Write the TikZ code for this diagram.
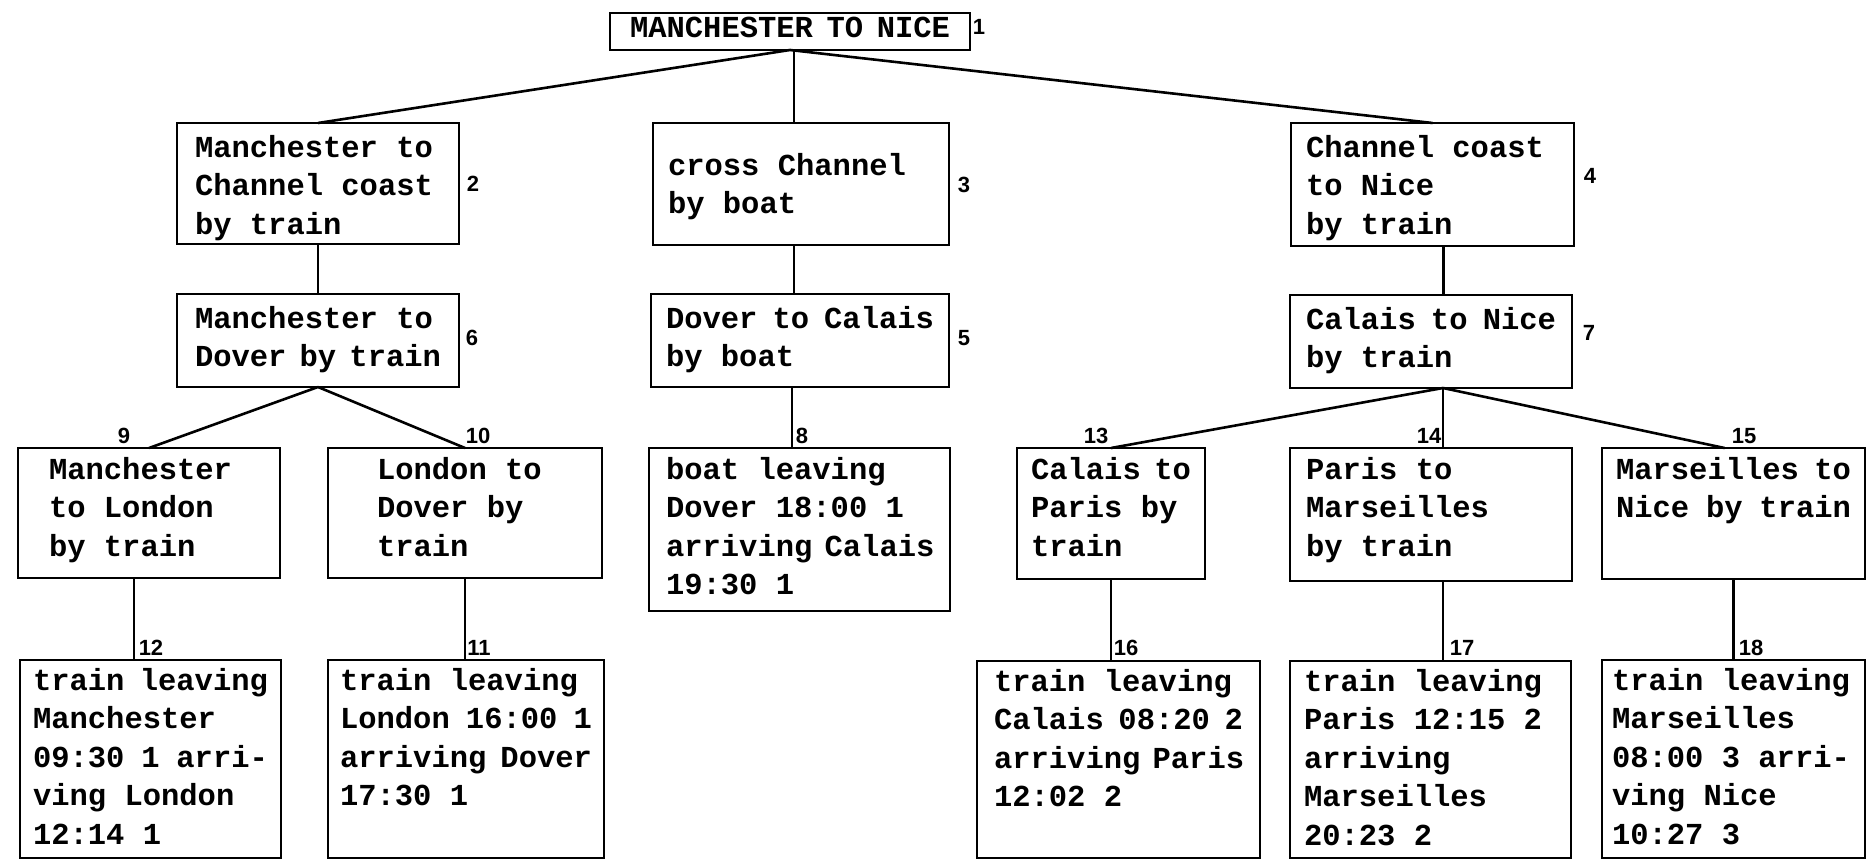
\documentclass[tikz,border=0pt]{standalone}
\usepackage{fontspec}
\newfontfamily\monofam{Liberation Mono}
\newfontfamily\labfam{Liberation Sans}
\newcommand\boxfont{\monofam\bfseries\fontsize{30.5}{38.5}\selectfont}
\newcommand\numfont{\labfam\bfseries\fontsize{22}{26}\selectfont}
\tikzset{
  bx/.style={draw, line width=2.6pt, inner ysep=0pt, outer sep=0pt},
  conn/.style={line width=2.6pt},
  num/.style={font=\numfont, inner sep=0pt}
}
% #1 name, #2 x1, #3 y1, #4 x2, #5 y2, #6 left pad, #7 first baseline, #8 text
\newcommand\mkbox[8]{\node[bx, inner xsep=#6pt, anchor=north west] (#1) at (#2,#3)
  {\parbox[c][\dimexpr #5pt-#3pt\relax][t]{\dimexpr #4pt-#2pt-#6pt-#6pt\relax}{\boxfont\raggedright\rule{0pt}{#7pt}#8}};}
\begin{document}
\begin{tikzpicture}[x=1pt,y=-1pt]
\useasboundingbox (0,0) rectangle (1868,862);
% boxes
\mkbox{root}{610}{13}{970}{50}{20}{25}{MANCHESTER~TO~NICE}
\mkbox{b2}{177}{123}{459}{244}{18}{34}{Manchester~to\\Channel~coast\\by~train}
\mkbox{b3}{653}{123}{949}{245}{15}{52}{cross~Channel\\by~boat}
\mkbox{b4}{1291}{123}{1574}{246}{15}{34}{Channel~coast\\to~Nice\\by~train}
\mkbox{b6}{177}{294}{459}{387}{18}{34}{Manchester~to\\Dover~by~train}
\mkbox{b5}{651}{294}{949}{387}{15}{34}{Dover~to~Calais\\by~boat}
\mkbox{b7}{1290}{295}{1572}{388}{16}{34}{Calais~to~Nice\\by~train}
\mkbox{b9}{18}{448}{280}{578}{31}{31}{Manchester\\to~London\\by~train}
\mkbox{b10}{328}{448}{602}{578}{49}{31}{London~to\\Dover~by\\train}
\mkbox{b8}{649}{448}{950}{611}{17}{31}{boat~leaving\\Dover~18:00~1\\arriving~Calais\\19:30~1}
\mkbox{b13}{1017}{448}{1205}{579}{14}{31}{Calais~to\\Paris~by\\train}
\mkbox{b14}{1290}{448}{1572}{581}{16}{31}{Paris~to\\Marseilles\\by~train}
\mkbox{b15}{1602}{448}{1865}{579}{14}{31}{Marseilles~to\\Nice~by~train}
\mkbox{b12}{20}{660}{281}{858}{13}{30}{train~leaving\\Manchester\\09:30~1~arri-\\ving~London\\12:14~1}
\mkbox{b11}{328}{660}{604}{858}{12}{30}{train~leaving\\London~16:00~1\\arriving~Dover\\17:30~1}
\mkbox{b16}{977}{661}{1260}{858}{17}{30}{train~leaving\\Calais~08:20~2\\arriving~Paris\\12:02~2}
\mkbox{b17}{1290}{661}{1571}{858}{14}{30}{train~leaving\\Paris~12:15~2\\arriving\\Marseilles\\20:23~2}
\mkbox{b18}{1602}{660}{1865}{858}{10}{30}{train~leaving\\Marseilles\\08:00~3~arri-\\ving~Nice\\10:27~3}
% connectors
\draw[conn] (root.south) -- (b2.north);
\draw[conn] ([xshift=4pt]root.south) -- ([xshift=4pt]root.south |- b3.north);
\draw[conn] (root.south) -- (b4.north);
\draw[conn] (b2.south) -- (b6.north);
\draw[conn] ([xshift=-7pt]b3.south) -- ([xshift=-7pt]b3.south |- b5.north);
\draw[conn] ([xshift=11pt]b4.south) -- ([xshift=11pt]b4.south |- b7.north);
\draw[conn] (b6.south) -- (b9.north);
\draw[conn] (b6.south) -- (b10.north);
\draw[conn] ([xshift=-8pt]b5.south) -- ([xshift=-8pt]b5.south |- b8.north);
\coordinate (b7c) at ([xshift=12pt]b7.south);
\draw[conn] (b7c) -- (b13.north);
\draw[conn] (b7c) -- (b7c |- b14.north);
\draw[conn] (b7c) -- ([xshift=-9pt]b15.north);
\draw[conn] ([xshift=-15pt]b9.south) -- ([xshift=-15pt]b9.south |- b12.north);
\draw[conn] (b10.south) -- (b10.south |- b11.north);
\draw[conn] (b13.south) -- (b13.south |- b16.north);
\draw[conn] ([xshift=12pt]b14.south) -- ([xshift=12pt]b14.south |- b17.north);
\draw[conn] (b15.south) -- (b15.south |- b18.north);
% number labels
\node[num] (l1) at (979,27) {1};
\node[num] (l2) at (473,184) {2};
\node[num] (l3) at (964,185) {3};
\node[num] (l4) at (1590,176) {4};
\node[num] (l5) at (964,338) {5};
\node[num] (l6) at (472,338) {6};
\node[num] (l7) at (1589,333) {7};
\node[num] (l8) at (802,436) {8};
\node[num] (l9) at (124,436) {9};
\node[num] (l10) at (478,436) {10};
\node[num] (l11) at (479,648) {11};
\node[num] (l12) at (151,648) {12};
\node[num] (l13) at (1096,436) {13};
\node[num] (l14) at (1429,436) {14};
\node[num] (l15) at (1744,436) {15};
\node[num] (l16) at (1126,648) {16};
\node[num] (l17) at (1462,648) {17};
\node[num] (l18) at (1751,648) {18};
\end{tikzpicture}
\end{document}
